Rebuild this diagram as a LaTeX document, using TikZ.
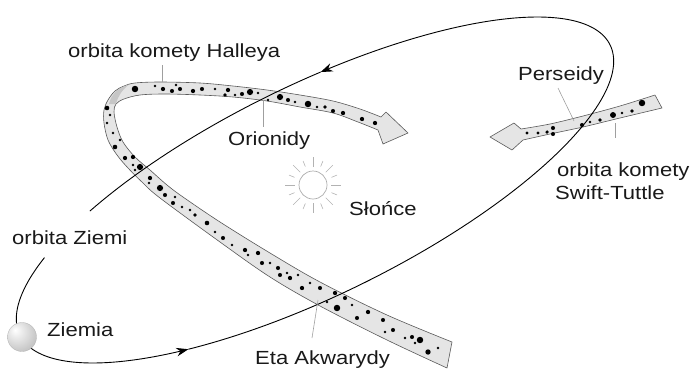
\documentclass[tikz,border=0pt]{standalone}
\usepackage{fontspec}
\setmainfont{Liberation Sans}
\usetikzlibrary{arrows.meta,calc}

% labels are set a little wider than the plain face
\newcommand{\stretchtxt}[1]{\scalebox{1.16}[1]{#1}}

% soft grey globe, lit from the upper left
\pgfdeclareradialshading{globe}{\pgfpoint{-12bp}{12bp}}{%
  color(0bp)=(white); color(10bp)=(gray!15); color(28bp)=(gray!40);
  color(42bp)=(gray!60); color(52bp)=(gray!72); color(72bp)=(gray!80)}

\tikzset{
  lbl/.style={font=\fontsize{19}{22}\selectfont, inner sep=0pt, text=black!90},
  leader/.style={draw=gray!75, line width=0.6pt},
  orbit/.style={draw=black, line width=0.9pt},
  orbittip/.style={-{Stealth[length=12pt,width=8.5pt]}},
  band/.style={fill=gray!20, draw=black!65, line width=0.6pt, line join=round},
  fold/.style={fill=gray!45},
  ray/.style={draw=gray!60, line width=0.6pt},
}

\begin{document}
\begin{tikzpicture}[x=1pt, y=-1pt]
\useasboundingbox (0,0) rectangle (691,370);

% ---------------- stream of comet Halley ----------------
\filldraw[band]
  plot[smooth, tension=0.55] coordinates {(447,368) (387,340) (320,306) (270,277) (220,242) (160,198)
     (143,183) (128,168) (117,155) (108,140) (104,123) (104,110) (108,100) (115,91) (124,86) (135,83)
     (160,82) (200,83) (233,86) (267,90) (300,95) (333,101) (360,109) (381,117)}
  -- (386,112) -- (408,133) -- (383,144)
  -- plot[smooth, tension=0.55] coordinates {(378,130) (358,122) (333,113) (300,107) (267,101) (233,97)
     (200,95) (165,94) (140,95) (124,99) (116,104) (114,112) (117,127) (123,142) (135,157) (150,170)
     (167,185) (183,197) (220,222) (270,253) (320,282) (387,315) (452,342)}
  -- cycle;
% underside of the ribbon where it turns
\fill[fold] (109,104) .. controls (111,95) and (117,88) .. (129,84.5)
            .. controls (122,90) and (118,96) .. (116,104) -- cycle;

% meteoroids in the Halley stream
\foreach \a/\b/\r in {
  135/89/2.4, 155/86/1.0, 163/89/1.6, 172/91/1.5, 176/85/1.0, 180/89/1.5, 193/91/1.6, 202/89/1.5,
  215/89/1.0, 225/95/1.4, 228/90/1.6, 235/95/1.0, 242/94/1.5, 250/92/2.3, 258/93/1.0, 268/100/1.0,
  280/97/2.3, 288/100/1.5, 295/102/1.0, 308/104/2.4, 317/107/1.0, 325/107/1.4, 333/111/1.5,
  343/113/1.6, 362/119/1.6, 375/123/1.6,
  107/108/1.7, 110/115/1.0, 107/123/1.0, 113/133/1.0, 120/140/1.0, 115/147/1.7, 125/158/1.6,
  133/157/1.6, 133/165/1.0, 140/167/2.3, 135/170/1.0, 150/178/1.6, 149/183/1.0, 160/188/2.3,
  165/195/1.5, 175/197/1.0,
  173/203/1.5, 182/207/1.0, 195/215/1.4, 207/223/1.7, 190/210/1.0, 215/232/1.0, 223/238/1.5,
  232/245/1.0, 245/250/1.6, 248/255/1.0, 258/253/1.6, 262/263/1.5, 270/263/1.0, 278/268/1.5,
  280/275/1.5, 287/273/1.0, 290/278/1.6, 298/275/1.0, 302/288/1.6, 310/283/1.0, 320/288/1.5,
  327/302/1.0, 335/293/1.6, 337/308/2.4, 345/298/1.5, 352/305/1.0, 357/318/1.5, 368/312/1.6,
  383/320/1.5, 385/332/1.0, 393/330/1.5, 405/338/1.0, 412/337/1.5, 415/343/1.0, 420/340/2.4,
  428/352/2.0, 438/348/1.0}
  \fill (\a,\b) circle ({1.35*\r pt});

% ---------------- stream of comet Swift-Tuttle ----------------
\filldraw[band]
  plot[smooth, tension=0.5] coordinates {(662,108) (620,118) (583,127) (550,134) (523,140)}
  -- (512,150) -- (490,137) -- (514,123)
  -- plot[smooth, tension=0.5] coordinates {(521,129) (550,124) (583,116) (620,106) (655,95)}
  -- cycle;
\foreach \a/\b/\r in {
  527/133/1.2, 538/133/1.2, 547/132/1.3, 553/128/1.5, 553/134/1.5, 582/125/1.5, 590/122/1.0,
  600/120/1.4, 613/115/2.2, 622/113/1.0, 632/111/1.4, 642/103/2.4}
  \fill (\a,\b) circle ({1.35*\r pt});

% ---------------- the Sun ----------------
\node[circle, draw=gray!65, line width=0.7pt, minimum size=28pt, inner sep=0pt] (sun) at (313,185) {};
\foreach \ang [count=\i] in {0,22.5,...,337.5} {
  \pgfmathsetmacro\rin{ifthenelse(mod(\i,2)==1,18,20)}
  \pgfmathsetmacro\rout{ifthenelse(mod(\i,2)==1,28,26)}
  \draw[ray] ($(sun.center)+(\ang:\rin pt)$) -- ($(sun.center)+(\ang:\rout pt)$);
}

% ---------------- orbit of the Earth ----------------
% ellipse: centre (315,190), semi-axes 329 and 105, tilted by about 26 degrees
\coordinate (gapA) at ({315+295.1*cos(-214)-46.3*sin(-214)},{190-145.1*cos(-214)-94.2*sin(-214)});
\coordinate (arrLow) at ({315+295.1*cos(-124)-46.3*sin(-124)},{190-145.1*cos(-124)-94.2*sin(-124)});
\coordinate (arrUp) at ({315+295.1*cos(80)-46.3*sin(80)},{190-145.1*cos(80)-94.2*sin(80)});
\coordinate (gapB) at ({315+295.1*cos(130)-46.3*sin(130)},{190-145.1*cos(130)-94.2*sin(130)});
\draw[orbit, orbittip] (gapA)
  -- plot[domain=-214:-124, samples=60, smooth] ({315+295.1*cos(\x)-46.3*sin(\x)},{190-145.1*cos(\x)-94.2*sin(\x)});
\draw[orbit, orbittip] (arrLow)
  -- plot[domain=-124:80, samples=120, smooth] ({315+295.1*cos(\x)-46.3*sin(\x)},{190-145.1*cos(\x)-94.2*sin(\x)});
\draw[orbit] (arrUp)
  -- plot[domain=80:130, samples=40, smooth] ({315+295.1*cos(\x)-46.3*sin(\x)},{190-145.1*cos(\x)-94.2*sin(\x)});

% the Earth
\node[circle, minimum size=29pt, inner sep=0pt, shade, shading=globe, draw=gray!60, line width=0.3pt] (earth) at (22,337) {};

% ---------------- labels ----------------
\node[lbl, anchor=base west] (halley) at (68,57.5) {\stretchtxt{orbita komety Halleya}};
\node[lbl, anchor=base west] (orion) at (228,145) {\stretchtxt{Orionidy}};
\node[lbl, anchor=base west] (pers) at (518,80.5) {\stretchtxt{Perseidy}};
\node[lbl, anchor=base west] (swift1) at (557,176) {\stretchtxt{orbita komety}};
\node[lbl, anchor=base west] (swift2) at (555,199) {\stretchtxt{Swift-Tuttle}};
\node[lbl, anchor=base west] (slonce) at (349,215) {\stretchtxt{Słońce}};
\node[lbl, anchor=base west] (orbz) at (12,244) {\stretchtxt{orbita Ziemi}};
\node[lbl, anchor=base west] (ziemia) at (47,336) {\stretchtxt{Ziemia}};
\node[lbl, anchor=base west] (eta) at (255,364) {\stretchtxt{Eta Akwarydy}};

% ---------------- leader lines ----------------
\coordinate (hA) at (162,65);  \coordinate (hB) at (162,82);
\coordinate (oA) at (263,100); \coordinate (oB) at (263,127);
\coordinate (pA) at (558,88);  \coordinate (pB) at (574,121);
\coordinate (sA) at (615,123); \coordinate (sB) at (615,138);
\coordinate (eA) at (318,300); \coordinate (eB) at (312,338);
\draw[leader] (hA) -- (hB);
\draw[leader] (oA) -- (oB);
\draw[leader] (pA) -- (pB);
\draw[leader] (sA) -- (sB);
\draw[leader] (eA) -- (eB);
\end{tikzpicture}
\end{document}
